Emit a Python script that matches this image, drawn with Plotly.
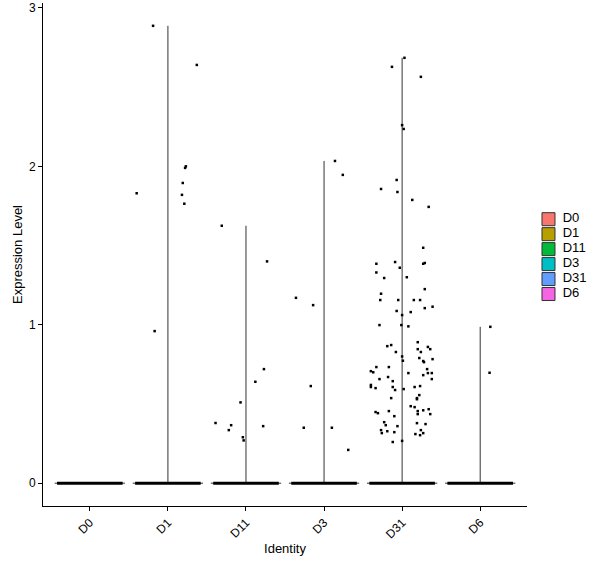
import plotly.graph_objects as go

# identities on the x axis
groups = ["D0", "D1", "D11", "D3", "D31", "D6"]
colors = ["#F8766D", "#B79F00", "#00BA38", "#00BFC4", "#619CFF", "#F564E3"]

# non-zero expression values per identity, with the jitter offset of each dot
d0_values = []
d0_jitter = []
d1_values = [2.887, 2.64, 2.0, 1.99, 1.895, 1.83, 1.82, 1.764, 0.96]
d1_jitter = [-0.19, 0.37, 0.23, 0.22, 0.19, -0.40, 0.18, 0.21, -0.17]
d11_values = [1.625, 1.40, 0.72, 0.64, 0.51, 0.38, 0.366, 0.36, 0.335, 0.29, 0.27]
d11_jitter = [-0.31, 0.27, 0.23, 0.12, -0.07, -0.39, -0.19, 0.22, -0.22, -0.04, -0.03]
d3_values = [2.034, 1.946, 1.17, 1.124, 0.613, 0.35, 0.35, 0.21]
d3_jitter = [0.14, 0.24, -0.36, -0.14, -0.17, -0.26, 0.10, 0.31]
d31_values = [
    2.685, 2.628, 2.565, 2.26, 2.236, 1.914, 1.857, 1.838, 1.788, 1.744,
    1.486, 1.385, 1.396, 1.36, 1.385, 1.39, 1.33, 1.295, 1.30, 1.225,
    1.196, 1.156, 1.156, 1.156, 1.156, 1.105, 1.114, 1.087, 1.08, 1.061,
    0.998, 0.998, 0.99, 0.89, 0.865, 0.872, 0.86, 0.846, 0.846, 0.828,
    0.828, 0.80, 0.79, 0.783, 0.773, 0.771, 0.764, 0.733, 0.733, 0.72,
    0.707, 0.70, 0.695, 0.695, 0.695, 0.682, 0.67, 0.657, 0.657, 0.644,
    0.62, 0.607, 0.60, 0.607, 0.613, 0.607, 0.594, 0.588, 0.556, 0.537,
    0.53, 0.537, 0.486, 0.48, 0.467, 0.46, 0.449, 0.442, 0.455, 0.455,
    0.436, 0.436, 0.423, 0.385, 0.366, 0.36, 0.379, 0.373, 0.335, 0.328,
    0.322, 0.335, 0.316, 0.316, 0.31, 0.303, 0.26, 0.267,
]
d31_jitter = [
    0.03, -0.13, 0.24, 0.00, 0.02, -0.07, -0.27, -0.06, 0.13, 0.34,
    0.27, -0.33, -0.09, -0.03, 0.27, 0.29, -0.33, -0.23, 0.06, 0.29,
    -0.27, -0.28, -0.05, 0.15, 0.23, 0.29, 0.39, -0.07, 0.11, 0.00,
    -0.29, -0.01, 0.08, 0.20, -0.19, -0.14, 0.33, 0.36, 0.20, 0.24,
    -0.08, 0.00, 0.22, 0.39, 0.01, 0.27, 0.28, -0.33, -0.17, 0.32,
    -0.40, -0.37, 0.08, 0.33, 0.38, 0.27, -0.18, -0.29, 0.38, -0.12,
    -0.40, -0.40, -0.34, -0.12, 0.23, 0.16, 0.02, -0.09, 0.22, 0.19,
    0.19, -0.14, 0.11, 0.16, 0.34, 0.27, -0.34, -0.31, -0.17, 0.20,
    0.20, 0.36, -0.10, -0.23, -0.21, -0.06, 0.19, 0.30, -0.27, -0.19,
    -0.10, 0.24, 0.27, -0.26, 0.17, 0.23, -0.12, 0.00,
]
d6_values = [0.987, 0.697]
d6_jitter = [0.13, 0.12]

values = [d0_values, d1_values, d11_values, d3_values, d31_values, d6_values]
jitters = [d0_jitter, d1_jitter, d11_jitter, d3_jitter, d31_jitter, d6_jitter]

fig = go.Figure()

for i, name in enumerate(groups):
    vals = values[i]
    top = max(vals) if vals else 0
    # collapsed violin: outline at zero and a stem up to the max
    fig.add_trace(go.Scatter(x=[i - 0.45, i + 0.45], y=[0, 0], mode="lines",
                             line=dict(color="#333333", width=1),
                             showlegend=False, hoverinfo="skip"))
    if top > 0:
        fig.add_trace(go.Scatter(x=[i, i], y=[0, top], mode="lines",
                                 line=dict(color="#333333", width=1),
                                 showlegend=False, hoverinfo="skip"))
    # the zero cells pile up into a thick bar
    fig.add_trace(go.Scatter(x=[i - 0.42, i + 0.42], y=[0, 0], mode="lines",
                             line=dict(color="black", width=3),
                             showlegend=False, hoverinfo="skip"))
    fig.add_trace(go.Scatter(x=[i + j for j in jitters[i]], y=vals, mode="markers",
                             marker=dict(color="black", size=2.5, symbol="square"),
                             showlegend=False, name=name))

# fill legend, drawn on its own hidden axes to keep ggplot's tight key spacing
key_rows = [-i for i in range(len(groups))]
fig.add_trace(go.Scatter(
    x=[0] * len(groups), y=key_rows, mode="markers",
    marker=dict(color=colors, size=13, symbol="square",
                line=dict(color="#333333", width=1)),
    xaxis="x2", yaxis="y2", showlegend=False, hoverinfo="skip", cliponaxis=False,
))
fig.add_trace(go.Scatter(
    x=[0.95] * len(groups), y=key_rows, mode="text",
    text=groups, textposition="middle right",
    textfont=dict(size=13, color="black"),
    xaxis="x2", yaxis="y2", showlegend=False, hoverinfo="skip", cliponaxis=False,
))

fig.update_layout(
    width=600, height=568,
    plot_bgcolor="white", paper_bgcolor="white",
    margin=dict(l=43, r=0, t=3, b=62),
    font=dict(family="Liberation Sans, Arial", color="black", size=12),
    showlegend=False,
    xaxis=dict(
        domain=[0, 0.869],
        range=[-0.6, 5.6], tickvals=list(range(len(groups))), ticktext=groups,
        tickangle=-45, ticks="outside", ticklen=4, tickcolor="black",
        showline=True, linecolor="black", linewidth=1, showgrid=False, zeroline=False,
        automargin=False,
        title=dict(text="Identity", font=dict(size=13), standoff=3),
    ),
    yaxis=dict(
        range=[-0.144, 3.031], tickvals=[0, 1, 2, 3],
        ticks="outside", ticklen=4, tickcolor="black",
        showline=True, linecolor="black", linewidth=1, showgrid=False, zeroline=False,
        automargin=False,
        title=dict(text="Expression Level", font=dict(size=13), standoff=3),
    ),
    xaxis2=dict(domain=[0.8743, 1.0], range=[-1.233, 3.433], visible=False,
                fixedrange=True),
    yaxis2=dict(domain=[0.3996, 0.598], range=[-5.733, 0.933], visible=False,
                anchor="x2", fixedrange=True),
)

# drop the browser's default 8px page margin so the figure sits at the window origin
fig.write_html("out.html", config={"displayModeBar": False},
               post_script="document.body.style.margin = '0';")
